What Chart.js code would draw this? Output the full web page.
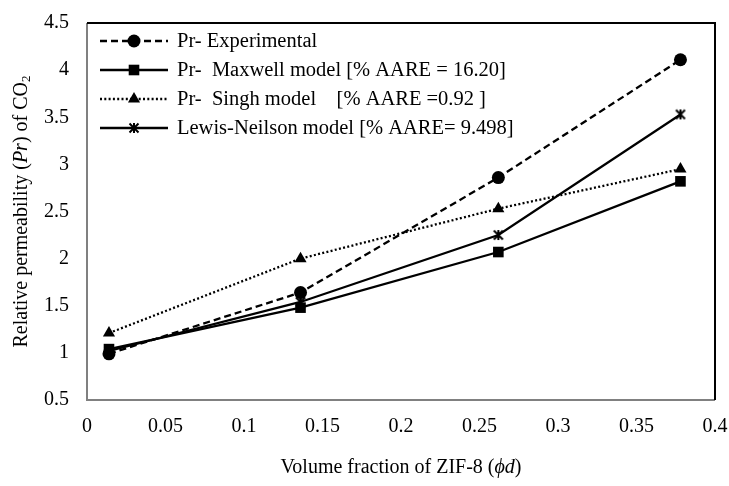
<!DOCTYPE html>
<html>
<head>
<meta charset="utf-8">
<script src="https://cdn.jsdelivr.net/npm/chart.js@4/dist/chart.umd.min.js"></script>
<style>
  html, body { margin: 0; padding: 0; background: #fff; }
  #wrap { width: 729px; height: 486px; }
</style>
</head>
<body>
<div id="wrap"><canvas id="c" width="729" height="486"></canvas></div>
<script>
/* ── Data ─────────────────────────────────────────────── */
const zifFraction = [0.014, 0.136, 0.262, 0.378];
const prExperimental = [0.99, 1.64, 2.86, 4.11];
const prMaxwell = [1.04, 1.48, 2.07, 2.82];
const prSingh = [1.21, 2.0, 2.53, 2.95];
const prLewis = [1.02, 1.54, 2.25, 3.53];
const seriesLabels = [
  'Pr- Experimental',
  'Pr-  Maxwell model [% AARE = 16.20]',
  'Pr-  Singh model    [% AARE =0.92 ]',
  'Lewis-Neilson model [% AARE= 9.498]'
];
const xTicks = [0, 0.05, 0.1, 0.15, 0.2, 0.25, 0.3, 0.35, 0.4];
const yTicks = [0.5, 1, 1.5, 2, 2.5, 3, 3.5, 4, 4.5];

const FONT = "'Liberation Serif', 'Times New Roman', serif";

/* ── Star marker (x + vertical bar) ───────────────────── */
function makeStar(size) {
  const c = document.createElement('canvas');
  c.width = size; c.height = size;
  const g = c.getContext('2d');
  g.strokeStyle = '#000'; g.lineWidth = 2;
  const m = 1.5, s = size - 1.5;
  g.beginPath();
  g.moveTo(m, m); g.lineTo(s, s);
  g.moveTo(s, m); g.lineTo(m, s);
  g.moveTo(size / 2, m - 0.5); g.lineTo(size / 2, s + 0.5);
  g.stroke();
  return c;
}
const starMark = makeStar(12);

function toPts(ys) { return zifFraction.map((x, i) => ({ x: x, y: ys[i] })); }

const datasets = [
  { label: seriesLabels[0], data: toPts(prExperimental), borderDash: [7, 4],
    pointStyle: 'circle', pointRadius: 6.5 },
  { label: seriesLabels[1], data: toPts(prMaxwell), borderDash: [],
    pointStyle: 'rect', pointRadius: 7.5 },
  { label: seriesLabels[2], data: toPts(prSingh), borderDash: [2, 2.3],
    pointStyle: 'triangle', pointRadius: 7 },
  { label: seriesLabels[3], data: toPts(prLewis), borderDash: [],
    pointStyle: starMark, pointRadius: 6 }
].map(d => Object.assign({
  borderColor: '#000', backgroundColor: '#000', pointBackgroundColor: '#000',
  pointBorderColor: '#000', pointBorderWidth: 0, borderWidth: 2.3,
  tension: 0, fill: false
}, d));

/* ── Plugins: frame, legend, axis titles ──────────────── */
const framePlugin = {
  id: 'frame',
  afterDraw(chart) {
    const { ctx, chartArea: a } = chart;
    ctx.save();
    ctx.lineWidth = 2;
    ctx.strokeStyle = '#808080';
    ctx.beginPath();
    ctx.moveTo(a.left, a.top); ctx.lineTo(a.left, a.bottom); ctx.lineTo(a.right, a.bottom);
    ctx.stroke();
    ctx.strokeStyle = '#000';
    ctx.beginPath();
    ctx.moveTo(a.left, a.top); ctx.lineTo(a.right, a.top); ctx.lineTo(a.right, a.bottom);
    ctx.stroke();
    ctx.restore();
  }
};

const legendPlugin = {
  id: 'inLegend',
  afterDraw(chart) {
    const ctx = chart.ctx;
    const rows = [41, 70, 99, 128];
    ctx.save();
    chart.data.datasets.forEach((ds, i) => {
      const y = rows[i];
      ctx.strokeStyle = '#000';
      ctx.lineWidth = ds.borderWidth;
      ctx.setLineDash(ds.borderDash);
      ctx.beginPath(); ctx.moveTo(100, y); ctx.lineTo(168, y); ctx.stroke();
      ctx.setLineDash([]);
      Chart.helpers.drawPoint(ctx, {
        pointStyle: ds.pointStyle, radius: ds.pointRadius, borderWidth: 0, rotation: 0
      }, 134, y);
      ctx.fillStyle = '#000';
      ctx.font = '20.5px ' + FONT;
      ctx.textBaseline = 'middle';
      ctx.textAlign = 'left';
      ctx.fillText(ds.label, 177, y + 1);
    });
    ctx.restore();
  }
};

function drawRuns(ctx, runs, x, y) {
  // runs: [text, font, dy]
  let w = 0;
  runs.forEach(r => { ctx.font = r[1]; w += ctx.measureText(r[0]).width; });
  let cx = x - w / 2;
  runs.forEach(r => {
    ctx.font = r[1];
    ctx.fillText(r[0], cx, y + (r[2] || 0));
    cx += ctx.measureText(r[0]).width;
  });
}

const titlePlugin = {
  id: 'axisTitles',
  afterDraw(chart) {
    const { ctx, chartArea: a } = chart;
    const reg = '20px ' + FONT, ital = 'italic 20px ' + FONT, sub = '13px ' + FONT;
    ctx.save();
    ctx.fillStyle = '#000';
    ctx.textBaseline = 'middle';
    ctx.textAlign = 'left';
    drawRuns(ctx, [
      ['Volume fraction of ZIF-8 (', reg], ['\u03D5d', ital], [')', reg]
    ], (a.left + a.right) / 2, 468);
    ctx.translate(22, (a.top + a.bottom) / 2);
    ctx.rotate(-Math.PI / 2);
    drawRuns(ctx, [
      ['Relative permeability (', reg], ['Pr', ital], [') of CO', reg], ['2', sub, 5]
    ], 0, 0);
    ctx.restore();
  }
};

/* ── Chart ────────────────────────────────────────────── */
new Chart(document.getElementById('c'), {
  type: 'line',
  data: { datasets: datasets },
  plugins: [framePlugin, legendPlugin, titlePlugin],
  options: {
    responsive: false,
    devicePixelRatio: 1,
    animation: false,
    layout: { padding: { left: 0, top: 23, right: 14, bottom: 0 } },
    plugins: { legend: { display: false }, tooltip: { enabled: false } },
    scales: {
      x: {
        type: 'linear', min: 0, max: 0.4,
        afterBuildTicks: s => { s.ticks = xTicks.map(v => ({ value: v })); },
        afterFit: s => { s.height = 86; s.paddingLeft = 0; s.paddingRight = 0; },
        grid: { display: false, drawTicks: false },
        border: { display: false },
        ticks: { padding: 15, color: '#000', font: { family: FONT, size: 20 },
                 maxRotation: 0, callback: v => String(v) }
      },
      y: {
        type: 'linear', min: 0.5, max: 4.5,
        afterBuildTicks: s => { s.ticks = yTicks.map(v => ({ value: v })); },
        afterFit: s => { s.width = 87; s.paddingTop = 0; s.paddingBottom = 0; },
        grid: { display: false, drawTicks: false },
        border: { display: false },
        ticks: { padding: 18, color: '#000', font: { family: FONT, size: 20 },
                 callback: v => String(v) }
      }
    }
  }
});
</script>
</body>
</html>
